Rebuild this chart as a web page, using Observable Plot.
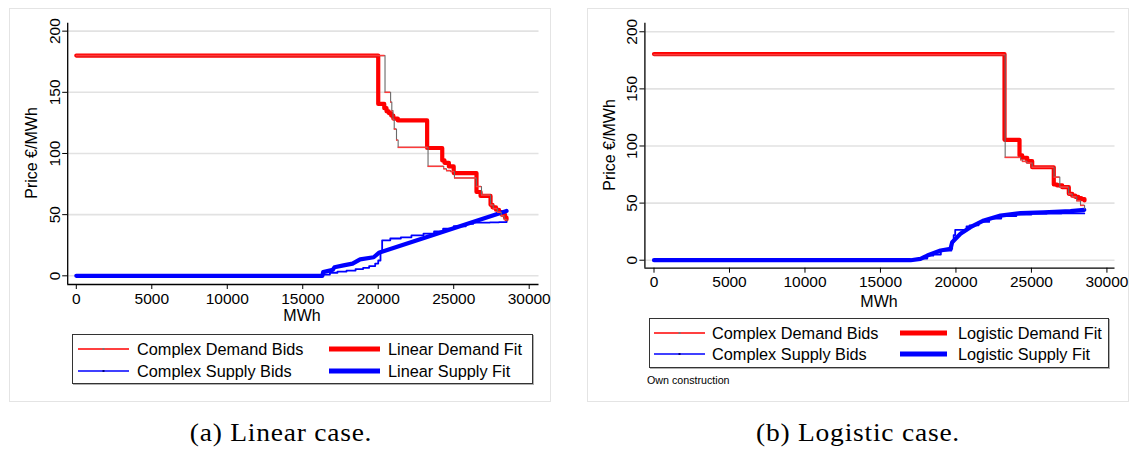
<!DOCTYPE html>
<html><head><meta charset="utf-8">
<script src="https://cdn.jsdelivr.net/npm/d3@7"></script>
<script src="https://cdn.jsdelivr.net/npm/@observablehq/plot@0.6"></script>
<style>
body{margin:0;background:#fff;}
#root{position:relative;width:1134px;height:449px;font-family:"Liberation Sans",Arial,sans-serif;color:#000;overflow:hidden;background:#fff}
.panel{position:absolute;border:1px solid #e4e4e4;box-sizing:border-box}
.plot{position:absolute;top:0}
.t{position:absolute;white-space:nowrap;line-height:1}
.legend{position:absolute;border:1px solid #333;box-shadow:1px 1px 0 #b0b0b0;box-sizing:border-box;background:#fff}
.cap{font-family:"Liberation Serif","Times New Roman",serif;font-size:25px;letter-spacing:0.7px}
</style></head>
<body><div id="root"></div>
<script>
const xTicks = [0, 5000, 10000, 15000, 20000, 25000, 30000];
const yTicks = [0, 50, 100, 150, 200];

// Panel (a) Linear case
const aDemandBidsQ = [0, 20450, 20820, 20900, 20980, 21060, 21210, 21320, 23300, 24340, 24520, 24790, 25050, 26500, 26840, 27440, 27620, 27900, 28150, 28350, 28520];
const aDemandBidsP = [180, 150, 142, 135, 128, 120, 111, 105, 89.5, 87.5, 86, 85.3, 80, 73, 66, 58, 55, 52, 49, 46, 44];
const aDemandFitQ = [0, 20000, 20400, 20550, 20700, 20860, 21000, 21300, 23240, 24240, 24390, 24680, 25000, 26510, 26780, 27440, 27570, 27800, 28000, 28200, 28400, 28500];
const aDemandFitP = [180, 140.5, 137, 134.5, 133, 131, 128.5, 127, 104.5, 94.3, 92.4, 89.4, 84, 68.5, 65.3, 58, 56, 54, 52, 50, 47.5, 46];
const aSupplyBidsQ = [0, 16300, 16800, 17300, 17900, 18500, 19000, 19400, 19800, 20000, 20150, 20260, 20800, 21500, 22200, 23000, 23700, 24300, 25000, 25800, 26300, 26800, 27400, 28000, 28500];
const aSupplyBidsP = [0, 1, 2.5, 3.5, 4.3, 5.5, 6.5, 8, 10, 12.5, 20, 29, 30.5, 31.5, 33, 34.5, 36.3, 38.5, 40.5, 42.5, 43.5, 43.5, 43.7, 43.9, 44];
const aSupplyFitQ = [0, 16300, 16350, 17000, 17100, 17700, 18300, 18800, 19700, 20040, 28500];
const aSupplyFitP = [0, 0, 3, 5, 7, 8.5, 10, 13.5, 15.2, 18.8, 53];

// Panel (b) Logistic case
const bDemandBidsQ = [0, 23260, 24280, 24400, 24700, 25050, 26500, 26880, 27460, 27700, 28000, 28250, 28520];
const bDemandBidsP = [180, 90, 88, 86.5, 85, 81.4, 72.7, 64, 58, 55.5, 52, 48, 45];
const bDemandFitQ = [0, 23217, 24210, 24390, 24720, 25050, 26480, 26700, 27040, 27476, 27700, 27900, 28100, 28300, 28515];
const bDemandFitP = [180.5, 105.4, 91.7, 89.7, 86.7, 81.4, 66.3, 65.5, 63.9, 58.1, 56.5, 55.5, 54.3, 53.5, 52.3];
const bSupplyBidsQ = [0, 17000, 17600, 18100, 18500, 19000, 19700, 19750, 19850, 19950, 20700, 20900, 21500, 22200, 23000, 24000, 25000, 26000, 27000, 28000, 28500];
const bSupplyBidsP = [0, 0, 1.5, 4, 5, 8.5, 10, 16, 22, 26.6, 29.5, 30.5, 33.5, 36.5, 38.7, 40, 40.5, 40.8, 41, 41, 41];
const bSupplyFitQ = [0, 17000, 17650, 18100, 18980, 19640, 19750, 20300, 20960, 21850, 22950, 24280, 25820, 27590, 28500];
const bSupplyFitP = [0, 0, 1.2, 4.1, 8.5, 10, 15.8, 23.1, 28.9, 34.8, 39.1, 41.2, 42, 42.9, 44];

const legendA = ["Complex Demand Bids", "Linear Demand Fit", "Complex Supply Bids", "Linear Supply Fit"];
const legendB = ["Complex Demand Bids", "Logistic Demand Fit", "Complex Supply Bids", "Logistic Supply Fit"];

const RED = "#ff0000", BLUE = "#0000ff";
const rows = (q, p) => q.map((v, i) => ({q: v, p: p[i]}));
const segs = (r) => d3.pairs(r).map(([a, b]) => ({x1: a.q, x2: b.q, y: a.p}));

function panel(o) {
  const dB = rows(o.dbq, o.dbp), dF = rows(o.dfq, o.dfp), sB = rows(o.sbq, o.sbp), sF = rows(o.sfq, o.sfp);
  return Plot.plot({
    width: o.width, height: o.height,
    marginLeft: o.ml, marginRight: o.mr, marginTop: o.mt, marginBottom: o.mb,
    x: {domain: o.xDom}, y: {domain: o.yDom},
    style: {fontFamily: '"Liberation Sans", Arial, sans-serif', fontSize: "15.5px", background: "transparent", color: "#000", overflow: "visible"},
    marks: [
      Plot.gridY(yTicks, {stroke: "#e2e2e2", strokeOpacity: 1, strokeWidth: 1.6}),
      Plot.line(dF, {x: "q", y: "p", curve: "step-after", stroke: RED, strokeWidth: 4.2}),
      Plot.line(sF, {x: "q", y: "p", stroke: BLUE, strokeWidth: 4.2}),
      Plot.line(dB, {x: "q", y: "p", curve: "step-after", stroke: "#6a6a6a", strokeWidth: 1.1}),
      Plot.ruleY(segs(dB), {y: "y", x1: "x1", x2: "x2", stroke: "#ff3a3a", strokeWidth: 1.5}),
      Plot.line(sB, {x: "q", y: "p", curve: "step-after", stroke: BLUE, strokeWidth: 1.8}),
      Plot.ruleY([o.yDom[0]], {stroke: "#000", strokeWidth: 1.3}),
      Plot.ruleX([o.xDom[0]], {stroke: "#000", strokeWidth: 1.3}),
      Plot.axisX(xTicks, {tickSize: 5, tickPadding: 3, label: null, tickFormat: d => String(d)}),
      Plot.axisY(yTicks, {tickSize: 5, tickPadding: 3, tickRotate: -90, label: null, tickFormat: d => String(d)})
    ]
  });
}

const root = document.getElementById("root");
function add(html, style, cls) {
  const el = document.createElement("div");
  el.className = cls || "t";
  el.innerHTML = html;
  Object.assign(el.style, style);
  root.appendChild(el);
  return el;
}

add("", {left: "9px", top: "8px", width: "542px", height: "394px"}, "panel");
add("", {left: "587px", top: "8px", width: "542px", height: "394px"}, "panel");

const pa = panel({width: 560, height: 330, ml: 67.2, mr: 21.5, mt: 22.7, mb: 46,
  xDom: [-570, 30650], yDom: [-7.1, 206.5],
  dbq: aDemandBidsQ, dbp: aDemandBidsP, dfq: aDemandFitQ, dfp: aDemandFitP,
  sbq: aSupplyBidsQ, sbp: aSupplyBidsP, sfq: aSupplyFitQ, sfp: aSupplyFitP});
pa.classList.add("plot"); pa.style.left = "0px";
root.appendChild(pa);

const pb = panel({width: 557, height: 320, ml: 67.4, mr: 19.5, mt: 22.7, mb: 52.3,
  xDom: [-603, 30535], yDom: [-7.0, 207.5],
  dbq: bDemandBidsQ, dbp: bDemandBidsP, dfq: bDemandFitQ, dfp: bDemandFitP,
  sbq: bSupplyBidsQ, sbp: bSupplyBidsP, sfq: bSupplyFitQ, sfp: bSupplyFitP});
pb.classList.add("plot"); pb.style.left = "577px";
root.appendChild(pb);

// axis titles
const c = {transform: "translate(-50%,-50%)", fontSize: "16px"};
add("Price €/MWh", {...c, left: "31.5px", top: "153px", transform: "translate(-50%,-50%) rotate(-90deg)"});
add("MWh", {...c, left: "302px", top: "316px"});
add("Price €/MWh", {...c, left: "609.5px", top: "145px", transform: "translate(-50%,-50%) rotate(-90deg)"});
add("MWh", {...c, left: "879px", top: "301.7px"});

// legends
function legend(box, labels, rowsY, cols) {
  add("", {left: box[0] + "px", top: box[1] + "px", width: box[2] + "px", height: box[3] + "px"}, "legend");
  const specs = [
    {color: RED, w: 1.5, dot: "#777", r: 0, c: 0},
    {color: RED, w: 5, r: 0, c: 1},
    {color: BLUE, w: 1.5, dot: "#000080", r: 1, c: 0},
    {color: BLUE, w: 5, r: 1, c: 1}
  ];
  specs.forEach((s, i) => {
    const col = cols[s.c], y = rowsY[s.r];
    const len = col[1] - col[0];
    const svg = `<svg width="${len}" height="8" style="display:block"><line x1="0" x2="${len}" y1="4" y2="4" stroke="${s.color}" stroke-width="${s.w}"/>${s.dot ? `<rect x="${len/2 - 1}" y="3" width="2" height="2" fill="${s.dot}"/>` : ""}</svg>`;
    add(svg, {left: col[0] + "px", top: (y - 4) + "px"});
    add(labels[i], {left: col[2] + "px", top: y + "px", transform: "translateY(-50%)", fontSize: "16.3px"});
  });
}
legend([72, 334, 461, 50], legendA, [349, 371], [[78, 129, 137], [329, 380, 388]]);
legend([649, 318, 460, 50], legendB, [333, 354], [[654, 705, 712], [900, 947, 958]]);
add("Own construction", {left: "647px", top: "380px", transform: "translateY(-50%)", fontSize: "10.7px"});

// captions
add("(a) Linear case.", {left: "281px", top: "432px", transform: "translate(-50%,-50%) scaleX(1.1)"}, "t cap");
add("(b) Logistic case.", {left: "858px", top: "432px", transform: "translate(-50%,-50%) scaleX(1.1)"}, "t cap");
</script></body></html>
